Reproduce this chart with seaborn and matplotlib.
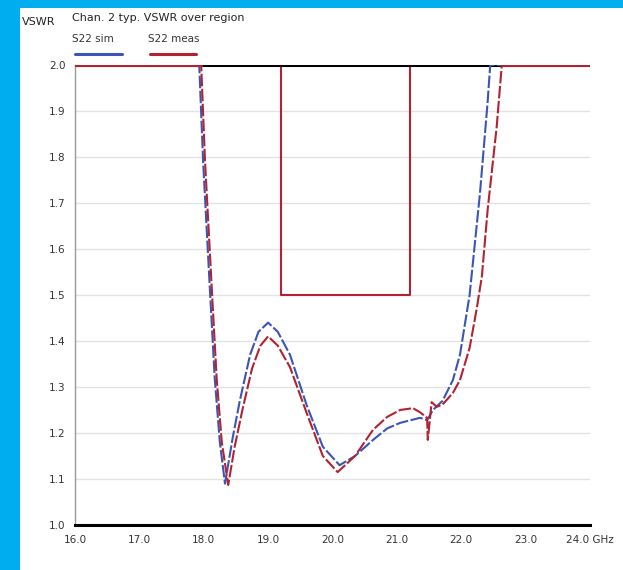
import matplotlib
matplotlib.use("Agg")
import matplotlib.pyplot as plt
import seaborn as sns
from matplotlib.lines import Line2D
from matplotlib.patches import Rectangle

# frequency (GHz) / VSWR
sim_freq = [16.0, 17.93, 17.99, 18.10, 18.17, 18.25, 18.33, 18.45, 18.56, 18.72, 18.85, 19.0,
            19.15, 19.34, 19.6, 19.85, 20.11, 20.35, 20.63, 20.85, 21.05, 21.36, 21.47, 21.56,
            21.71, 21.87, 21.98, 22.13, 22.29, 22.41, 22.45, 24.0]
sim_vswr = [2.0, 2.0, 1.79, 1.50, 1.32, 1.18, 1.09, 1.19, 1.27, 1.37, 1.42, 1.44,
            1.42, 1.37, 1.26, 1.17, 1.13, 1.15, 1.185, 1.21, 1.222, 1.233, 1.228, 1.25,
            1.27, 1.315, 1.37, 1.50, 1.72, 1.92, 2.0, 2.0]

meas_freq = [16.0, 17.96, 18.02, 18.13, 18.20, 18.28, 18.38, 18.48, 18.6, 18.75, 18.88, 19.0,
             19.15, 19.34, 19.6, 19.85, 20.08, 20.35, 20.63, 20.85, 21.05, 21.25, 21.36, 21.47,
             21.48, 21.54, 21.62, 21.71, 21.87, 21.98, 22.13, 22.24, 22.32, 22.41, 22.55, 22.63, 24.0]
meas_vswr = [2.0, 2.0, 1.79, 1.50, 1.32, 1.18, 1.087, 1.17, 1.25, 1.34, 1.39, 1.41,
             1.39, 1.343, 1.243, 1.15, 1.115, 1.15, 1.207, 1.235, 1.25, 1.254, 1.245, 1.233,
             1.185, 1.267, 1.257, 1.262, 1.287, 1.315, 1.385, 1.47, 1.54, 1.685, 1.865, 2.0, 2.0]

# spec mask
mask_freq = [19.2, 19.2, 21.2, 21.2]
mask_vswr = [2.0, 1.5, 1.5, 2.0]

x_ticks = [16, 17, 18, 19, 20, 21, 22, 23, 24]
x_labels = ["16.0", "17.0", "18.0", "19.0", "20.0", "21.0", "22.0", "23.0", "24.0 GHz"]
y_ticks = [1.0, 1.1, 1.2, 1.3, 1.4, 1.5, 1.6, 1.7, 1.8, 1.9, 2.0]

blue = "#3a55b4"
red = "#b22230"
sns.set_style("white")

fig = plt.figure(figsize=(6.23, 5.70), dpi=100, facecolor="#00aeef")
fig.add_artist(Rectangle((20 / 623, 0), 1, 1 - 8 / 570, transform=fig.transFigure,
                         facecolor="white", edgecolor="none", zorder=0))
ax = fig.add_axes([75 / 623, 1 - 525 / 570, 515 / 623, 460 / 570])
ax.set_facecolor("none")

for v in y_ticks[1:-1]:
    ax.axhline(v, color="#e2e2e2", lw=1.0, zorder=1)

ax.plot(mask_freq, mask_vswr, color=red, lw=1.5, zorder=2)
ax.axhline(2.0, color="black", lw=2.2, zorder=3)

sns.lineplot(x=sim_freq, y=sim_vswr, sort=False, estimator=None, color=blue, lw=1.5,
             linestyle=(0, (6, 1.2)), ax=ax, zorder=4)
sns.lineplot(x=meas_freq, y=meas_vswr, sort=False, estimator=None, color=red, lw=1.5,
             linestyle=(0, (6, 1.2)), ax=ax, zorder=5)
# flat parts clipped at the top are drawn solid over the black line
ax.plot(meas_freq[:2], meas_vswr[:2], color=red, lw=2.2, zorder=6)
ax.plot(meas_freq[-2:], meas_vswr[-2:], color=red, lw=2.2, zorder=6)

ax.set_xlim(16, 24)
ax.set_ylim(1.0, 2.0)
ax.set_xticks(x_ticks)
ax.set_xticklabels(x_labels)
ax.set_yticks(y_ticks)
ax.set_yticklabels(["%.1f" % v for v in y_ticks])
ax.tick_params(length=0, labelsize=7.5, labelcolor="#333333", pad=7)
for s in ["top", "right"]:
    ax.spines[s].set_visible(False)
ax.spines["left"].set_color("#999999")
ax.spines["left"].set_linewidth(1.0)
ax.spines["bottom"].set_color("black")
ax.spines["bottom"].set_linewidth(2.2)
ax.set_xlabel("")
ax.set_ylabel("")

fig.text(22 / 623, 1 - 22 / 570, "VSWR", fontsize=8, color="#222222", va="center")
fig.text(72 / 623, 1 - 18 / 570, "Chan. 2 typ. VSWR over region", fontsize=8,
         color="#222222", va="center")
fig.text(72 / 623, 1 - 39 / 570, "S22 sim", fontsize=7.5, color="#333333", va="center")
fig.text(148 / 623, 1 - 39 / 570, "S22 meas", fontsize=7.5, color="#333333", va="center")
fig.add_artist(Line2D([75 / 623, 122 / 623], [1 - 54 / 570] * 2, color=blue, lw=2.2,
                      transform=fig.transFigure))
fig.add_artist(Line2D([150 / 623, 196 / 623], [1 - 54 / 570] * 2, color=red, lw=2.2,
                      transform=fig.transFigure))

fig.savefig("out.png", dpi=100, facecolor=fig.get_facecolor())
